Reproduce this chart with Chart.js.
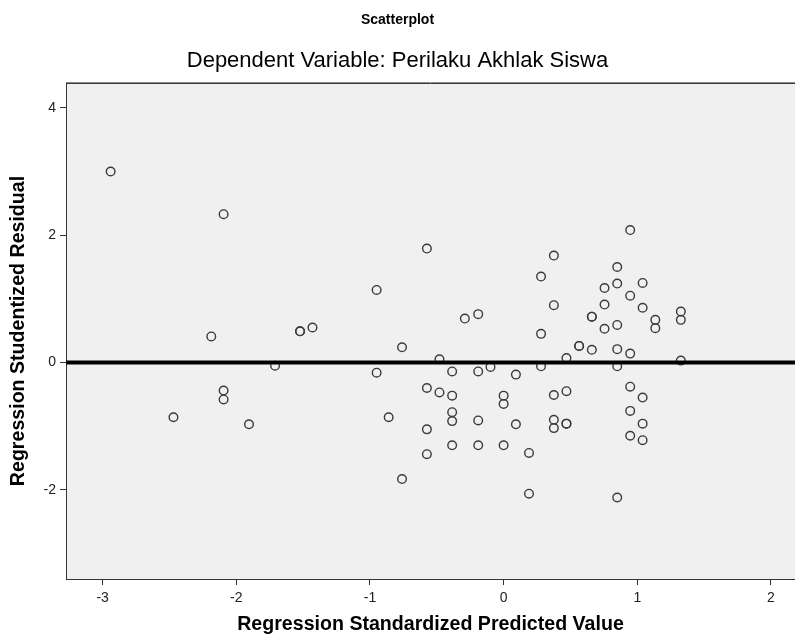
<!DOCTYPE html>
<html>
<head>
<meta charset="utf-8">
<script src="https://cdn.jsdelivr.net/npm/chart.js@4.4.1/dist/chart.umd.min.js"></script>
<style>
html,body{margin:0;padding:0;background:#fff;}
#wrap{width:795px;height:638px;}
</style>
</head>
<body>
<div id="wrap"><canvas id="c" width="795" height="638"></canvas></div>
<script>
// ---- data ----
const predicted = [
  -2.94, -2.095, -2.187, -1.523, -1.523, -1.43, -1.71, -2.095, -2.095, -2.47, -1.905,
  -0.574, -0.95, -0.76, -0.29, -0.19, 0.376, 0.28, 0.376, 0.28, -0.48, -0.95,
  -0.385, -0.19, -0.098, 0.092, 0.28, -0.574, -0.48, -0.385, 0.0, 0.376, 0.0,
  -0.86, -0.385, -0.385, -0.19, 0.092, 0.376, 0.376, -0.574, -0.385, -0.19, 0.0,
  0.19, -0.574, -0.76, 0.19,
  0.947, 0.85, 0.755, 0.85, 1.04, 0.947, 0.755, 1.04, 0.66, 0.66, 1.135, 1.135,
  1.326, 1.326, 0.755, 0.85, 0.565, 0.565, 0.66, 0.85, 0.947, 0.47, 1.326, 0.85,
  0.947, 1.04, 0.47, 0.947, 1.04, 0.947, 1.04, 0.47, 0.47, 0.85
];
const residual = [
  3.00, 2.33, 0.41, 0.49, 0.49, 0.55, -0.05, -0.44, -0.58, -0.86, -0.97,
  1.79, 1.14, 0.24, 0.69, 0.76, 1.68, 1.35, 0.90, 0.45, 0.05, -0.16,
  -0.14, -0.14, -0.07, -0.19, -0.06, -0.40, -0.47, -0.52, -0.52, -0.51, -0.65,
  -0.86, -0.78, -0.92, -0.91, -0.97, -0.90, -1.03, -1.05, -1.30, -1.30, -1.30,
  -1.42, -1.44, -1.83, -2.06,
  2.08, 1.50, 1.17, 1.24, 1.25, 1.05, 0.91, 0.86, 0.72, 0.72, 0.67, 0.54,
  0.80, 0.67, 0.53, 0.59, 0.26, 0.26, 0.20, 0.21, 0.14, 0.07, 0.03, -0.06,
  -0.38, -0.55, -0.45, -0.76, -0.96, -1.15, -1.22, -0.96, -0.96, -2.12
];
const xTicks = [-3, -2, -1, 0, 1, 2];
const yTicks = [-2, 0, 2, 4];
const xRange = [-3.274, 2.18];
const yRange = [-3.40, 4.39];
const referenceY = 0;

const titleText = "Scatterplot";
const subtitleText = "Dependent Variable: Perilaku Akhlak Siswa";
const xTitle = "Regression Standardized Predicted Value";
const yTitle = "Regression Studentized Residual";

const points = predicted.map((x, i) => ({x: x, y: residual[i]}));
const refLine = [{x: xRange[0], y: referenceY}, {x: xRange[1], y: referenceY}];

const FONT = "'Liberation Sans', Arial, sans-serif";

const bgPlugin = {
  id: 'bg',
  beforeDraw(chart) {
    const {ctx, chartArea: a} = chart;
    ctx.save();
    ctx.fillStyle = '#f0f0f0';
    ctx.fillRect(a.left, a.top, a.right - a.left, a.bottom - a.top);
    ctx.restore();
  },
  afterDraw(chart) {
    const {ctx, chartArea: a} = chart;
    ctx.save();
    ctx.strokeStyle = '#8a8a8a';
    ctx.lineWidth = 1;
    ctx.beginPath();
    ctx.moveTo(a.left, a.top - 0.5);
    ctx.lineTo(a.right, a.top - 0.5);
    ctx.stroke();
    ctx.strokeStyle = '#3a3a3a';
    ctx.beginPath();
    ctx.moveTo(a.left, a.top + 0.5);
    ctx.lineTo(a.right, a.top + 0.5);
    ctx.stroke();
    ctx.restore();
  }
};

new Chart(document.getElementById('c'), {
  type: 'scatter',
  data: {
    datasets: [
      {
        type: 'line',
        data: refLine,
        borderColor: '#000',
        borderWidth: 4,
        pointRadius: 0,
        order: 0
      },
      {
        data: points,
        pointStyle: 'circle',
        pointRadius: 4.3,
        pointBorderWidth: 1.4,
        borderColor: '#3a3a3a',
        backgroundColor: 'rgba(0,0,0,0)',
        order: 1
      }
    ]
  },
  options: {
    responsive: false,
    animation: false,
    events: [],
    layout: {autoPadding: false, padding: {left: 0, right: 0, top: 0, bottom: 0}},
    plugins: {
      legend: {display: false},
      tooltip: {enabled: false},
      title: {
        display: true,
        text: titleText,
        color: '#000',
        font: {family: FONT, size: 14, weight: 'bold', lineHeight: 1.2},
        padding: {top: 11.6, bottom: 0}
      },
      subtitle: {
        display: true,
        text: subtitleText,
        color: '#000',
        font: {family: FONT, size: 22, weight: 'normal', lineHeight: 1.2},
        padding: {top: 19.4, bottom: 8.8}
      }
    },
    scales: {
      x: {
        type: 'linear',
        min: xRange[0],
        max: xRange[1],
        afterBuildTicks(s) { s.ticks = xTicks.map(v => ({value: v})); },
        afterFit(s) { s.height = 59; s.paddingLeft = 0; s.paddingRight = 0; },
        grid: {drawOnChartArea: false, drawTicks: true, tickLength: 6, tickColor: '#333', tickWidth: 1},
        border: {display: true, color: '#333', width: 1},
        ticks: {color: '#222', font: {family: FONT, size: 14}, padding: 5, autoSkip: false, maxRotation: 0},
        title: {
          display: true,
          text: xTitle,
          color: '#000',
          font: {family: FONT, size: 19.6, weight: 'bold', lineHeight: 1.2},
          padding: {top: 0, bottom: 1.5}
        }
      },
      y: {
        type: 'linear',
        min: yRange[0],
        max: yRange[1],
        afterBuildTicks(s) { s.ticks = yTicks.map(v => ({value: v})); },
        afterFit(s) { s.width = 66; s.paddingTop = 0; s.paddingBottom = 0; },
        grid: {drawOnChartArea: false, drawTicks: true, tickLength: 6, tickColor: '#333', tickWidth: 1},
        border: {display: true, color: '#333', width: 1},
        ticks: {color: '#222', font: {family: FONT, size: 14}, padding: 4, autoSkip: false},
        title: {
          display: true,
          text: yTitle,
          color: '#000',
          font: {family: FONT, size: 19.6, weight: 'bold', lineHeight: 1.2},
          padding: {top: 7, bottom: 0}
        }
      }
    }
  },
  plugins: [bgPlugin]
});
</script>
</body>
</html>
